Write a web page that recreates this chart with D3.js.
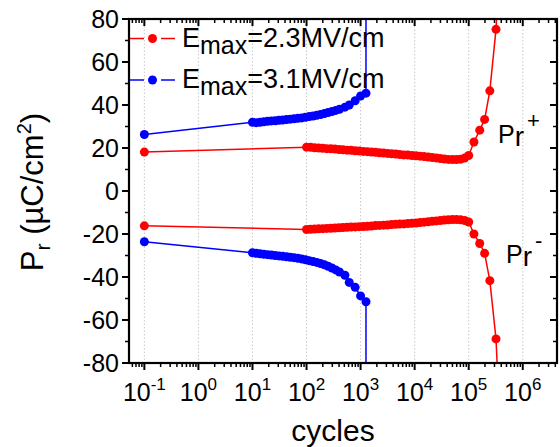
<!DOCTYPE html>
<html>
<head>
<meta charset="utf-8">
<script src="https://cdn.jsdelivr.net/npm/d3@7"></script>
<style>
  body { margin: 0; background: #fff; }
  svg { display: block; font-family: "Liberation Sans", Arial, sans-serif; }
</style>
</head>
<body>
<svg id="chart" width="560" height="447"></svg>
<script>
// Remanent polarization vs. number of switching cycles
const cyclesRed = [0.1, 100, 119, 141, 168, 200, 237, 282, 335, 398, 473, 562, 668, 794, 944,
  1122, 1334, 1585, 1884, 2239, 2661, 3162, 3758, 4467, 5309, 6310, 7499, 8913, 10593,
  12589, 14962, 17783, 21135, 25119, 29854, 35481, 42170, 50119, 59566, 70795, 84140,
  100000, 125000, 160000, 197000, 246000, 320000, 380000];
const prPlusRed = [18.1, 20.4, 20.3, 20.1, 20.0, 19.9, 19.7, 19.6, 19.5, 19.3, 19.2, 19.0, 18.9,
  18.7, 18.6, 18.4, 18.3, 18.1, 18.0, 17.8, 17.7, 17.5, 17.3, 17.2, 17.0, 16.8, 16.7, 16.5,
  16.4, 16.2, 16.0, 15.8, 15.6, 15.4, 15.1, 14.9, 14.7, 14.6, 14.6, 14.8, 15.3, 16.5,
  22.8, 28.3, 33.3, 46.6, 75.2, 110];
const prMinusRed = [-16.2, -17.9, -17.8, -17.7, -17.6, -17.5, -17.4, -17.3, -17.2, -17.1, -17.0,
  -16.9, -16.8, -16.7, -16.6, -16.5, -16.4, -16.3, -16.1, -16.0, -15.9, -15.8, -15.6, -15.5,
  -15.4, -15.3, -15.1, -15.0, -14.9, -14.7, -14.5, -14.3, -14.1, -13.9, -13.7, -13.5, -13.4,
  -13.3, -13.3, -13.4, -13.7, -14.4, -20.0, -24.4, -29.0, -41.7, -68.8, -110];

const cyclesBlue = [0.1, 10, 11.7, 13.8, 16.2, 19.1, 22.4, 26.3, 30.9, 36.3, 42.7, 50.1, 58.9,
  69.2, 81.3, 95.5, 112, 132, 155, 182, 214, 251, 295, 347, 407, 513, 617, 794, 1000, 1259, 1260];
const prPlusBlue = [26.3, 32.0, 31.8, 32.0, 32.2, 32.4, 32.6, 32.7, 32.9, 33.0, 33.2, 33.4, 33.6,
  33.8, 34.0, 34.3, 34.6, 34.9, 35.2, 35.6, 36.0, 36.5, 37.0, 37.5, 38.0, 39.0, 40.0, 42.0,
  44.2, 45.5, 400];
const prMinusBlue = [-23.6, -28.7, -29.0, -29.2, -29.4, -29.6, -29.8, -30.0, -30.2, -30.4, -30.6,
  -30.8, -31.0, -31.3, -31.6, -32.0, -32.4, -32.8, -33.2, -33.7, -34.3, -35.0, -35.8, -36.7,
  -37.7, -39.2, -42.5, -44.8, -48.8, -51.5, -400];

const yTicks = [80, 60, 40, 20, 0, -20, -40, -60, -80];
const xDecades = [-1, 0, 1, 2, 3, 4, 5, 6];
const legendLabels = [["2.3MV/cm", "#ff0000"], ["3.1MV/cm", "#0000ff"]];

const svg = d3.select("#chart");
const L = 129, R = 557, T = 19, B = 363;

const x = d3.scaleLog().domain([0.052, 4.3e6]).range([L, R]);
const y = d3.scaleLinear().domain([-80, 80]).range([B, T]);

// dotted decade grid
svg.append("g").selectAll("line").data(xDecades).join("line")
  .attr("x1", d => x(Math.pow(10, d))).attr("x2", d => x(Math.pow(10, d)))
  .attr("y1", T).attr("y2", B)
  .attr("stroke", "#c8c8c8").attr("stroke-width", 1).attr("stroke-dasharray", "1.5,2");

svg.append("defs").append("clipPath").attr("id", "plot")
  .append("rect").attr("x", L).attr("y", T).attr("width", R - L).attr("height", B - T);

const plot = svg.append("g").attr("clip-path", "url(#plot)");
const line = d3.line().x(d => x(d[0])).y(d => y(d[1]));

function series(cyc, vals, color) {
  const pts = cyc.map((c, i) => [c, vals[i]]);
  plot.append("path").datum(pts).attr("d", line)
    .attr("fill", "none").attr("stroke", color).attr("stroke-width", 1.5);
  plot.append("g").selectAll("circle").data(pts).join("circle")
    .attr("cx", d => x(d[0])).attr("cy", d => y(d[1])).attr("r", 4.5)
    .attr("fill", color);
}
series(cyclesRed, prPlusRed, "#ff0000");
series(cyclesRed, prMinusRed, "#ff0000");
series(cyclesBlue, prPlusBlue, "#0000ff");
series(cyclesBlue, prMinusBlue, "#0000ff");

// minor tick values for log axis
const minorX = [];
for (let e = -2; e <= 6; e++) for (let k = 2; k <= 9; k++) {
  const v = k * Math.pow(10, e);
  if (v >= 0.052 && v <= 4.3e6) minorX.push(v);
}
const majorX = xDecades.map(d => Math.pow(10, d));

const axes = svg.append("g").attr("stroke", "#000");
// bottom ticks (outward)
axes.selectAll(".bmaj").data(majorX).join("line")
  .attr("x1", d => x(d)).attr("x2", d => x(d)).attr("y1", B).attr("y2", B + 7).attr("stroke-width", 2);
axes.selectAll(".bmin").data(minorX).join("line").attr("class", "bmin")
  .attr("x1", d => x(d)).attr("x2", d => x(d)).attr("y1", B).attr("y2", B + 4).attr("stroke-width", 1.5);
// top ticks (inward)
axes.selectAll(".tmaj").data(majorX).join("line").attr("class", "tmaj")
  .attr("x1", d => x(d)).attr("x2", d => x(d)).attr("y1", T).attr("y2", T + 7).attr("stroke-width", 2);
axes.selectAll(".tmin").data(minorX).join("line").attr("class", "tmin")
  .attr("x1", d => x(d)).attr("x2", d => x(d)).attr("y1", T).attr("y2", T + 4).attr("stroke-width", 1.5);
// left / right ticks
const yMinor = d3.range(-70, 80, 20);
axes.selectAll(".lmaj").data(yTicks).join("line").attr("class", "lmaj")
  .attr("x1", L - 7).attr("x2", L).attr("y1", d => y(d)).attr("y2", d => y(d)).attr("stroke-width", 2);
axes.selectAll(".lmin").data(yMinor).join("line").attr("class", "lmin")
  .attr("x1", L - 4).attr("x2", L).attr("y1", d => y(d)).attr("y2", d => y(d)).attr("stroke-width", 1.5);
axes.selectAll(".rmaj").data(yTicks).join("line").attr("class", "rmaj")
  .attr("x1", R - 7).attr("x2", R).attr("y1", d => y(d)).attr("y2", d => y(d)).attr("stroke-width", 2);
axes.selectAll(".rmin").data(yMinor).join("line").attr("class", "rmin")
  .attr("x1", R - 4).attr("x2", R).attr("y1", d => y(d)).attr("y2", d => y(d)).attr("stroke-width", 1.5);

svg.append("rect").attr("x", L).attr("y", T).attr("width", R - L).attr("height", B - T)
  .attr("fill", "none").attr("stroke", "#000").attr("stroke-width", 2.2);

// y tick labels
svg.append("g").selectAll("text").data(yTicks).join("text")
  .attr("x", L - 10).attr("y", d => y(d) + 9).attr("text-anchor", "end")
  .attr("font-size", 25).text(d => d);

// x tick labels 10^n
const xl = svg.append("g").selectAll("text").data(xDecades).join("text")
  .attr("x", d => x(Math.pow(10, d))).attr("y", 401).attr("text-anchor", "middle")
  .attr("font-size", 25);
xl.append("tspan").text("10");
xl.append("tspan").attr("font-size", 17).attr("dy", -11).text(d => d);

// axis titles
svg.append("text").attr("x", 333).attr("y", 441).attr("text-anchor", "middle")
  .attr("font-size", 30).text("cycles");
const yt = svg.append("text").attr("transform", "translate(43,192) rotate(-90)")
  .attr("text-anchor", "middle").attr("font-size", 31);
yt.append("tspan").text("P");
yt.append("tspan").attr("font-size", 21).attr("dy", 7).text("r");
yt.append("tspan").attr("dy", -7).text(" (µC/cm");
yt.append("tspan").attr("font-size", 20).attr("dy", -12).text("2");
yt.append("tspan").attr("dy", 12).text(")");

// legend
const lg = svg.append("g").selectAll("g").data(legendLabels).join("g")
  .attr("transform", (d, i) => `translate(0,${i === 0 ? 38.5 : 80})`);
lg.append("line").attr("x1", 130).attr("x2", 144).attr("stroke", d => d[1]).attr("stroke-width", 1.5);
lg.append("line").attr("x1", 161).attr("x2", 175).attr("stroke", d => d[1]).attr("stroke-width", 1.5);
lg.append("circle").attr("cx", 152.5).attr("r", 4.5).attr("fill", d => d[1]);
const lt = lg.append("text").attr("x", 182).attr("y", 8).attr("font-size", 27);
lt.append("tspan").text("E");
lt.append("tspan").attr("font-size", 25).attr("dy", 7).text("max");
lt.append("tspan").attr("dy", -7).text(d => "=" + d[0]);

// branch labels
const pp = svg.append("text").attr("x", 498).attr("y", 143).attr("font-size", 25);
pp.append("tspan").text("P");
pp.append("tspan").attr("font-size", 28).attr("dy", 3).text("r");
pp.append("tspan").attr("font-size", 22).attr("dx", 3).attr("dy", -18).text("+");
const pm = svg.append("text").attr("x", 506).attr("y", 263).attr("font-size", 25);
pm.append("tspan").text("P");
pm.append("tspan").attr("font-size", 28).attr("dy", 3).text("r");
pm.append("tspan").attr("font-size", 22).attr("dx", 3).attr("dy", -18).text("-");
</script>
</body>
</html>
